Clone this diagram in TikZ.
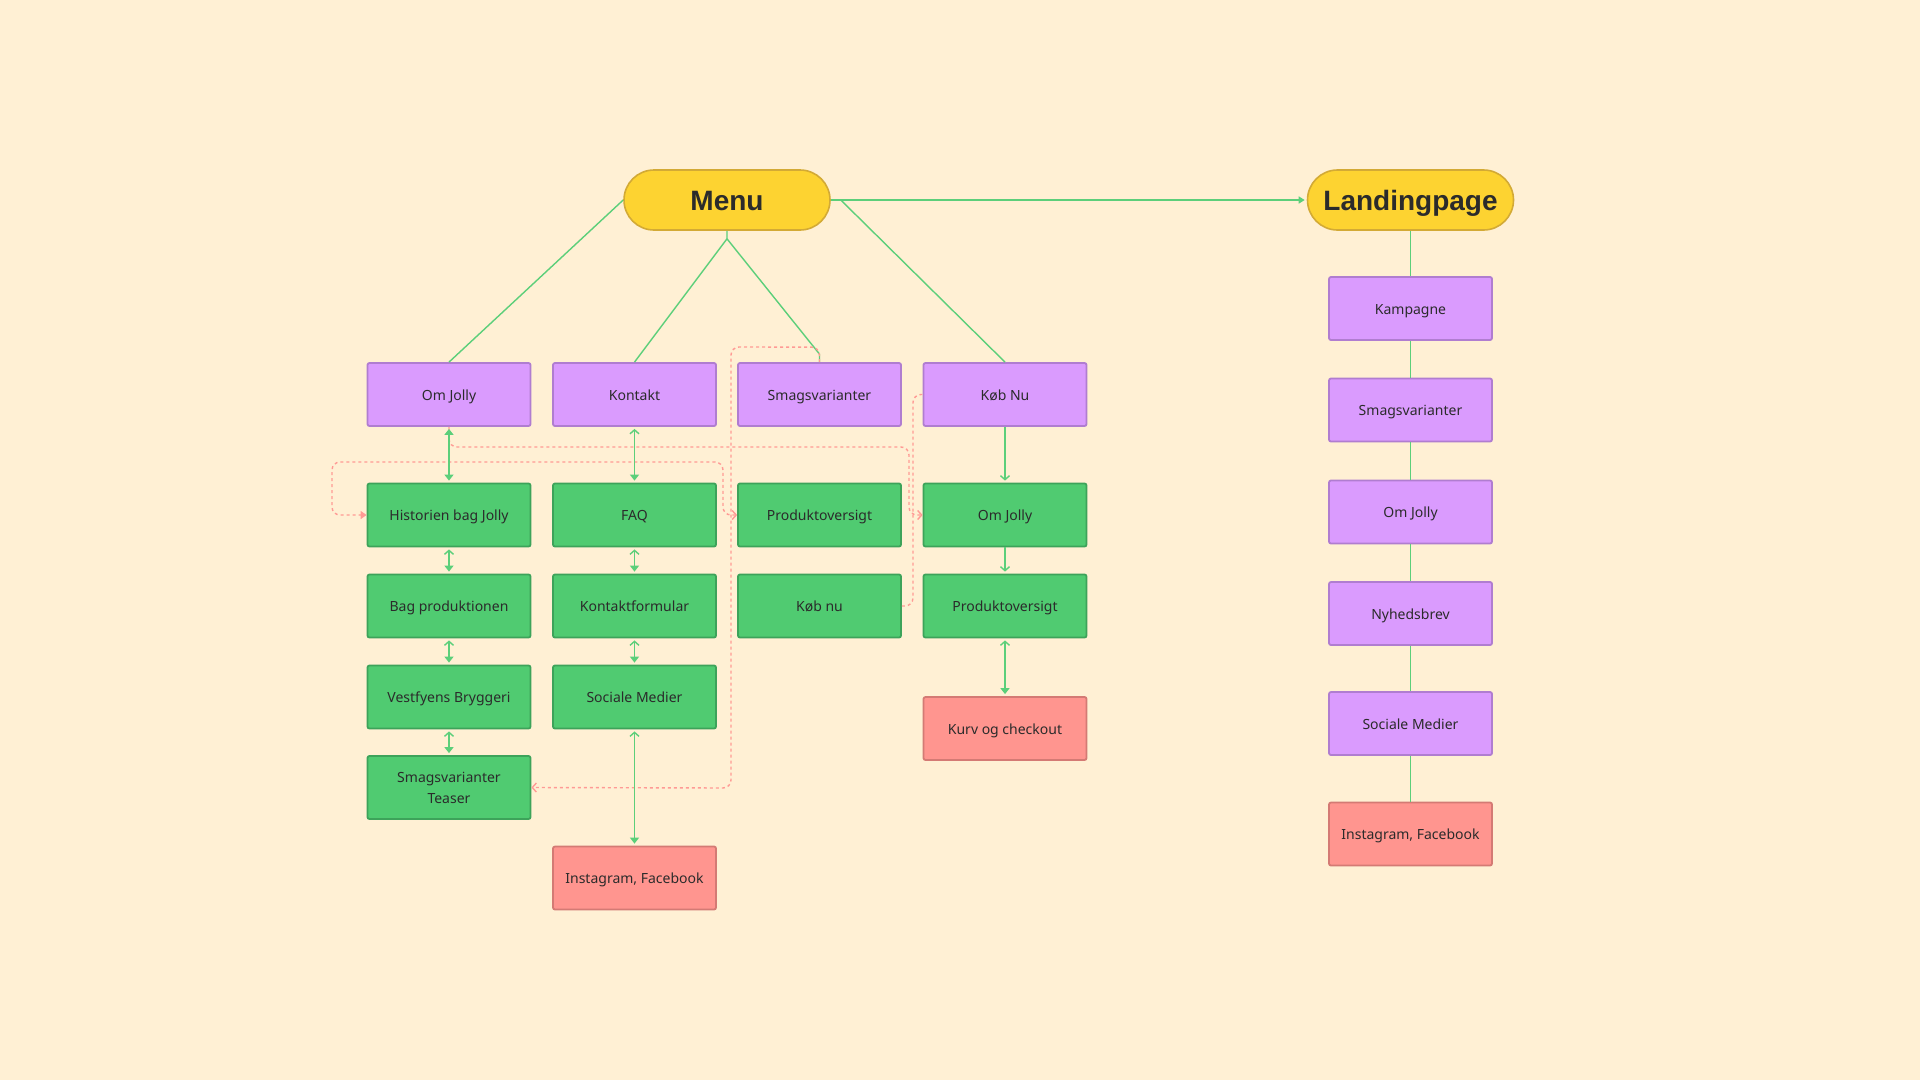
\documentclass[tikz,border=0pt]{standalone}
\usepackage{fontspec}
\setmainfont{Noto Sans}
\newfontfamily\titlefont{Liberation Sans}
\usetikzlibrary{arrows.meta,calc}
\definecolor{bg}{HTML}{FFF0D4}
\definecolor{pillfill}{HTML}{FDD331}
\definecolor{pillline}{HTML}{D3AA35}
\definecolor{purfill}{HTML}{DA9BFE}
\definecolor{purline}{HTML}{B07DD0}
\definecolor{grfill}{HTML}{50CB71}
\definecolor{grline}{HTML}{3DA35A}
\definecolor{rdfill}{HTML}{FF958F}
\definecolor{rdline}{HTML}{D47A74}
\definecolor{gconn}{HTML}{5CCF7A}
\definecolor{rconn}{HTML}{FF9A95}
\definecolor{txt}{HTML}{2B2B2B}
\tikzset{
  pill/.style={draw=pillline, fill=pillfill, line width=1.6pt, rounded corners=30pt,
    minimum width=206pt, minimum height=60pt, inner sep=0pt,
    font=\titlefont\fontsize{28}{30}\selectfont\bfseries, text=txt,
    text height=20pt, text depth=0pt},
  boxcore/.style={line width=1.8pt, rounded corners=2pt, minimum width=163pt,
    minimum height=63pt, inner sep=0pt, align=center,
    font=\fontsize{14}{21}\selectfont, text=txt},
  basebox/.style={boxcore, text height=14pt, text depth=3pt},
  purbox/.style={basebox, draw=purline, fill=purfill},
  grbox/.style={basebox, draw=grline, fill=grfill},
  grbox2/.style={boxcore, draw=grline, fill=grfill},
  rdbox/.style={basebox, draw=rdline, fill=rdfill},
  gl/.style={draw=gconn, line width=1.4pt},
  gdbl/.style={gl, {Straight Barb[length=4pt,width=9pt]}-{Triangle[length=6pt,width=9pt]}, shorten <=2pt, shorten >=2pt},
  gdblf/.style={gl, {Triangle[length=6pt,width=9pt]}-{Triangle[length=6pt,width=9pt]}, shorten <=2pt, shorten >=2pt},
  gone/.style={gl, -{Straight Barb[length=4pt,width=9pt]}, shorten >=2pt},
  rd/.style={draw=rconn, line width=1.4pt, dash pattern=on 3pt off 3pt, rounded corners=8pt},
}
\begin{document}
\begin{tikzpicture}[x=1pt,y=-1pt]
\fill[bg] (0,0) rectangle (1920,1080);
\useasboundingbox (0,0) rectangle (1920,1080);

% titles
\node[pill] (menu) at (727,200) {Menu};
\node[pill] (landing) at (1410.5,200) {Landingpage};

% row 1
\node[purbox] (omjolly) at (449,394.5) {Om Jolly};
\node[purbox] (kontakt) at (634.5,394.5) {Kontakt};
\node[purbox] (smag) at (819.5,394.5) {Smagsvarianter};
\node[purbox] (kobnu) at (1005,394.5) {Køb Nu};

% column 1
\node[grbox] (hist) at (449,515) {Historien bag Jolly};
\node[grbox] (bag) at (449,606) {Bag produktionen};
\node[grbox] (vest) at (449,697) {Vestfyens Bryggeri};
\node[grbox2] (teaser) at (449,787.5) {Smagsvarianter\\Teaser};

% column 2
\node[grbox] (faq) at (634.5,515) {FAQ};
\node[grbox] (kform) at (634.5,606) {Kontaktformular};
\node[grbox] (socmed) at (634.5,697) {Sociale Medier};
\node[rdbox] (insta) at (634.5,878) {Instagram, Facebook};

% column 3
\node[grbox] (prod1) at (819.5,515) {Produktoversigt};
\node[grbox] (kob2) at (819.5,606) {Køb nu};

% column 4
\node[grbox] (omj2) at (1005,515) {Om Jolly};
\node[grbox] (prod2) at (1005,606) {Produktoversigt};
\node[rdbox] (kurv) at (1005,728.5) {Kurv og checkout};

% landing column
\node[purbox] (kamp) at (1410.5,308.5) {Kampagne};
\node[purbox] (lsmag) at (1410.5,410) {Smagsvarianter};
\node[purbox] (lom) at (1410.5,512) {Om Jolly};
\node[purbox] (nyh) at (1410.5,613.5) {Nyhedsbrev};
\node[purbox] (lsoc) at (1410.5,723.5) {Sociale Medier};
\node[rdbox] (linsta) at (1410.5,834) {Instagram, Facebook};

% menu connectors
\coordinate (mj) at ($(menu.south)+(0,8)$);
\draw[gl] (menu.west) -- (omjolly.north);
\draw[gl] (menu.south) -- (mj) -- (kontakt.north);
\draw[gl] (mj) -- ($(smag.north)+(0,-8)$) -- (smag.north);
\draw[gl] (menu.east) -- ++(10,0) -- (kobnu.north);
\draw[gl, -{Triangle[length=6pt,width=7pt]}, shorten >=2pt] (menu.east) -- (landing.west);

% landing column lines
\draw[gl] (landing.south) -- (kamp.north);
\draw[gl] (kamp.south) -- (lsmag.north);
\draw[gl] (lsmag.south) -- (lom.north);
\draw[gl] (lom.south) -- (nyh.north);
\draw[gl] (nyh.south) -- (lsoc.north);
\draw[gl] (lsoc.south) -- (linsta.north);

% red dashed connectors
\draw[rd, -{Straight Barb[length=4pt,width=9pt]}] (smag.north) -- ++(0,-15) -- (731,347) -- (731,788) -- (teaser.east);
\draw[rd, {Straight Barb[length=4pt,width=9pt]}-{Triangle[length=6pt,width=8pt]}]
  (prod1.west) -- (723,515) -- (723,462) -- (332,462) -- (332,515) -- (hist.west);
\draw[rd, -{Straight Barb[length=4pt,width=9pt]}] (omjolly.south) -- (449,447) -- (909,447) -- (909,515) -- (omj2.west);
\draw[rd] (kob2.east) -- (913,606) -- (913,394.5) -- (kobnu.west);

% green arrows
\draw[gdblf] (omjolly.south) -- (hist.north);
\draw[gdbl] (hist.south) -- (bag.north);
\draw[gdbl] (bag.south) -- (vest.north);
\draw[gdbl] (vest.south) -- (teaser.north);
\draw[gdbl] (kontakt.south) -- (faq.north);
\draw[gdbl] (faq.south) -- (kform.north);
\draw[gdbl] (kform.south) -- (socmed.north);
\draw[gdbl] (socmed.south) -- (insta.north);
\draw[gone] (kobnu.south) -- (omj2.north);
\draw[gone] (omj2.south) -- (prod2.north);
\draw[gdbl] (prod2.south) -- (kurv.north);
\end{tikzpicture}
\end{document}
